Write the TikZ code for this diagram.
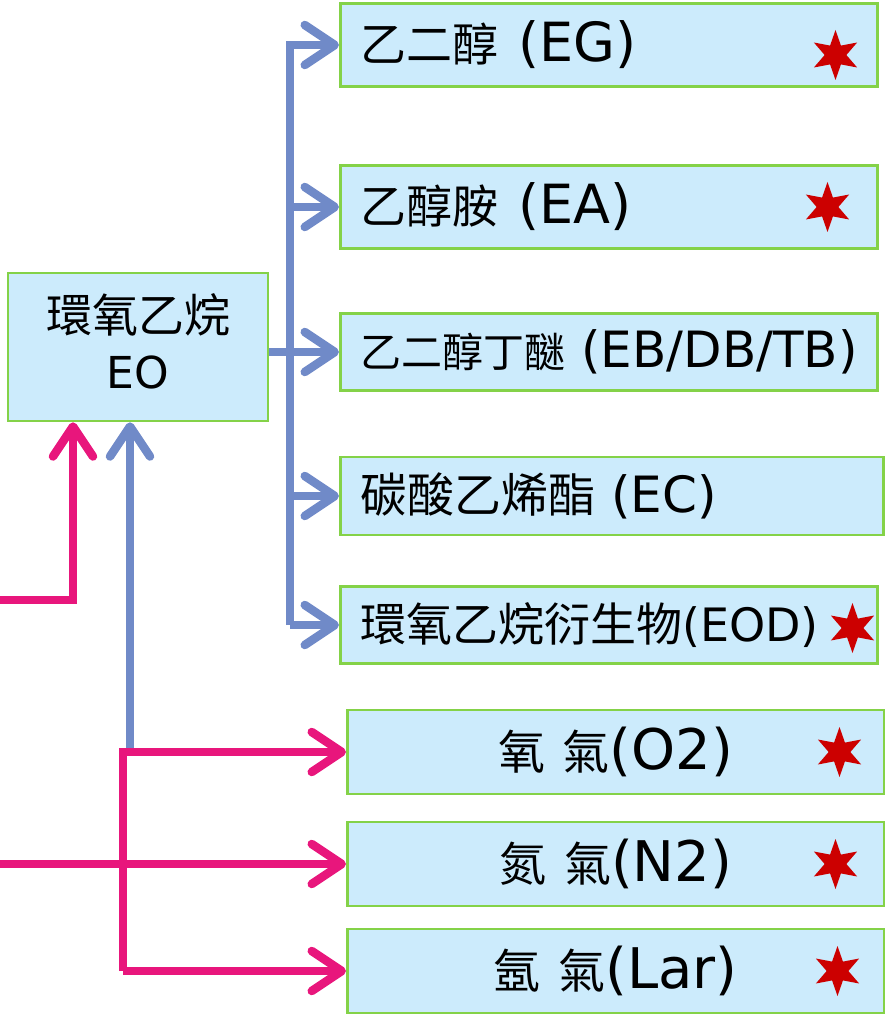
\documentclass[tikz,border=0pt]{standalone}
\usepackage{fontspec}
\setmainfont{DejaVu Sans}
\newfontfamily\cjkfont{Noto Sans CJK TC}
\usetikzlibrary{arrows.meta, positioning, shapes.geometric, calc}

\definecolor{boxfill}{RGB}{204,235,252}
\definecolor{boxline}{RGB}{132,210,72}
\definecolor{flowblue}{RGB}{112,138,200}
\definecolor{flowpink}{RGB}{232,22,124}
\definecolor{starred}{RGB}{204,0,0}

% label: cjk size, latin size, cjk text, latin text
\newcommand\lbl[4]{{\fontsize{#1}{#1}\selectfont\cjkfont #3}{\fontsize{#2}{#2}\selectfont #4}}

\begin{document}
\begin{tikzpicture}[x=1pt, y=-1pt, >={Straight Barb[length=30pt,width=40pt,round]},
    box/.style = {draw=boxline, fill=boxfill, line width=2.5pt, inner sep=0pt, anchor=west},
    lbox/.style = {box, text width=497pt, inner xsep=20pt, align=left},
    cbox/.style = {box, minimum width=537pt, minimum height=84pt},
    hexstar/.style = {star, star points=6, star point ratio=2.3, fill=starred,
      draw=none, minimum size=50pt, inner sep=0pt},
    flow/.style = {draw=flowblue, line width=8.5pt},
    feed/.style = {draw=flowpink, line width=8.5pt}]

    \useasboundingbox (0,0) rectangle (884,1016);

    % source
    \node[box, anchor=center, minimum width=260pt, minimum height=148pt, align=center,
      text depth=12pt, font=\fontsize{46}{56}\selectfont] (eo) at (138,347)
      {{\cjkfont 環氧乙烷}\\{\fontsize{44}{56}\selectfont EO}};

    % products
    \node[lbox, minimum height=83pt] (eg) at (339,45) {\lbl{46}{54}{乙二醇\hspace{20pt}}{(EG)}};
    \node[lbox, minimum height=83pt] (ea) at (339,207) {\lbl{46}{54}{乙醇胺\hspace{20pt}}{(EA)}};
    \node[lbox, minimum height=77pt] (eb) at (339,352) {\lbl{41}{50}{乙二醇丁醚\hspace{16pt}}{(EB/DB/TB)}};
    \node[lbox, minimum height=78pt, text width=503pt] (ec) at (339,496) {\lbl{47}{50}{碳酸乙烯酯\hspace{16pt}}{(EC)}};
    \node[lbox, minimum height=77pt] (eod) at (339,625) {\lbl{46}{46}{環氧乙烷衍生物}{(EOD)}};

    % gases
    \node[cbox] (o2) at (346,752) {\lbl{47}{56}{氧}{\ }\lbl{47}{56}{氣}{(O2)}};
    \node[cbox] (n2) at (346,864) {\lbl{47}{56}{氮}{\ }\lbl{47}{56}{氣}{(N2)}};
    \node[cbox] (lar) at (346,971) {\lbl{47}{56}{氬}{\ }\lbl{47}{56}{氣}{(Lar)}};

    % marks
    \node[hexstar] (seg) at ([xshift=-43pt,yshift=-10pt]eg.east) {};
    \node[hexstar] (sea) at ([xshift=-51pt]ea.east) {};
    \node[hexstar] (seod) at ([xshift=-26pt,yshift=-3pt]eod.east) {};
    \node[hexstar] (so2) at ([xshift=-46pt]o2.east) {};
    \node[hexstar] (sn2) at ([xshift=-50pt]n2.east) {};
    \node[hexstar] (slar) at ([xshift=-48pt]lar.east) {};

    % blue bus
    \coordinate (bus) at (290,0);
    \coordinate (up) at (130,752);
    \draw[flow,->] (bus |- eod.west) |- (eg.west);
    \draw[flow,->] (bus |- ea.west) -- (ea.west);
    \draw[flow,->] (eo.east |- eb.west) -- (eb.west);
    \draw[flow,->] (bus |- ec.west) -- (ec.west);
    \draw[flow,->] (bus |- eod.west) -- (eod.west);
    \draw[flow,->] (up) -- (up |- eo.south);

    % pink feeds
    \coordinate (inA) at (0,600);
    \coordinate (inB) at (0,864);
    \coordinate (pbus) at (123,0);
    \draw[feed,->] (inA) -| ([xshift=-65pt]eo.south);
    \draw[feed,->] (pbus |- lar.west) |- (o2.west);
    \draw[feed,->] (pbus |- lar.west) -- (lar.west);
    \draw[feed,->] (inB) -- (n2.west);
\end{tikzpicture}
\end{document}
